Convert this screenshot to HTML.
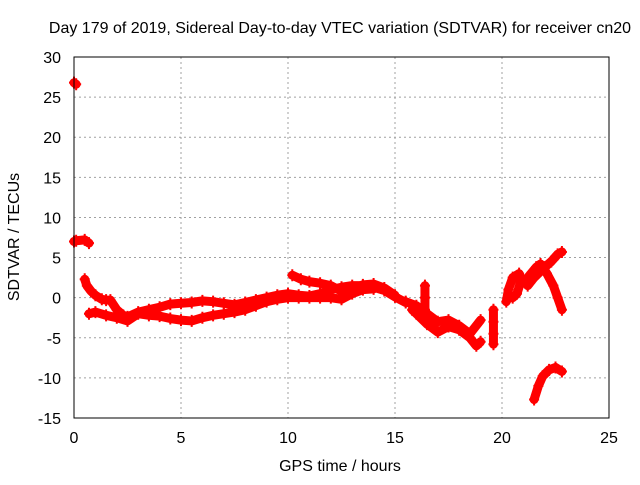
<!DOCTYPE html>
<html><head><meta charset="utf-8"><style>
body{margin:0;background:#fff}
svg{font-family:"Liberation Sans",sans-serif;font-size:16px}
</style></head><body>
<svg id="c" width="640" height="480">
<rect width="640" height="480" fill="#fff"/>
<text x="340" y="33" text-anchor="middle">Day 179 of 2019, Sidereal Day-to-day VTEC variation (SDTVAR) for receiver cn20</text>
<text x="340" y="471" text-anchor="middle">GPS time / hours</text>
<text transform="translate(19,237) rotate(-90)" text-anchor="middle">SDTVAR / TECUs</text>
<g id="grid"></g><g id="data"></g>
<rect x="74" y="57" width="535" height="361" fill="none" stroke="#000"/>
</svg>
<script>
const xTicks=[0,5,10,15,20,25];
const yTicks=[30,25,20,15,10,5,0,-5,-10,-15];
const track1=[[0,26.8],[0.1,26.6]];
const track2=[[0,7],[0.1,7.1],[0.5,7.2],[0.7,6.8]];
const track3=[[0.5,2.3],[0.6,1.5],[0.8,0.8],[1.0,0.3],[1.3,-0.2],[1.5,-0.3],[1.7,-0.3],[2.0,-1.5],[2.3,-2.2],[2.5,-2.4],[3,-1.8],[3.5,-1.5],[4,-1.2],[4.5,-0.8],[5,-0.7],[5.5,-0.6],[6,-0.4],[6.5,-0.5],[7,-0.7],[7.5,-0.9],[8,-0.6],[8.5,-0.3],[9,0],[9.5,0.3],[10,0.5],[10.5,0.3],[11,0.2],[11.5,0.5],[12,1],[12.5,1.3],[13,1.5],[13.5,1.5],[14,1.3],[14.5,0.9],[15,0.1],[15.5,-0.6]];
const track4=[[0.7,-2],[1,-1.8],[1.5,-2.2],[2,-2.5],[2.5,-2.9],[3,-2],[3.5,-2.2],[4,-2.3],[4.5,-2.6],[5,-2.8],[5.5,-2.9],[6,-2.5],[6.5,-2.2],[7,-2],[7.5,-1.8],[8,-1.5],[8.5,-1],[9,-0.5],[9.5,-0.2],[10,0],[10.5,0],[11,0],[11.5,0],[12,0],[12.5,-0.2],[13,0.5],[13.5,1],[14,1.1]];
const track5=[[10.2,2.8],[10.6,2.3],[11,2],[11.5,1.8],[12,1.5],[12.5,0.8],[13,1.1],[13.5,1.6],[14,1.7],[14.5,1.2],[15,0.3]];
const track6=[[15.5,-0.5],[16,-1],[16.5,-2],[17,-3],[17.5,-2.8],[18,-3.5],[18.5,-4.5],[19,-2.8]];
const track7=[[15.8,-1.5],[16,-2],[16.5,-3.3],[17,-4.3],[17.5,-3.6],[18,-4],[18.5,-5],[18.8,-6],[19,-5.5]];
const track8=[[16.4,1.5],[16.4,0],[16.4,-1.5],[16.5,-2.5]];
const track9=[[19.6,-1.5],[19.6,-3],[19.6,-4.5],[19.6,-5.8]];
const track10=[[20.2,-0.5],[20.3,1],[20.5,2.5],[20.8,3],[20.9,2.2],[20.7,0.5],[20.5,0]];
const track11=[[21.2,1.5],[21.5,2.5],[22,3.8],[22.3,4.5],[22.6,5.4],[22.8,5.7]];
const track12=[[21.2,2.5],[21.6,3.8],[21.8,4.2],[22.1,3],[22.4,1.5],[22.6,0],[22.8,-1.5]];
const track13=[[21.5,-12.7],[21.7,-11],[21.9,-9.8],[22.2,-9],[22.5,-8.7],[22.8,-9.2]];
const tracks=[track1,track2,track3,track4,track5,track6,track7,track8,track9,track10,track11,track12,track13];
const X=h=>74+h*535/25, Y=v=>57+(30-v)*361/45;
const NS="http://www.w3.org/2000/svg";
const svg=document.getElementById('c'),g=document.getElementById('grid'),d=document.getElementById('data');
function mk(tag,at,p){const e=document.createElementNS(NS,tag);for(const k in at)e.setAttribute(k,at[k]);p.appendChild(e);return e;}
xTicks.forEach(t=>{
  const l=mk('line',{x1:X(t),x2:X(t),y1:57,y2:418,stroke:'#a0a0a0','stroke-dasharray':'2,3'},g);
  
  
  const tx=mk('text',{x:X(t),y:443,'text-anchor':'middle'},g);tx.textContent=t;
  
  
});
yTicks.forEach(t=>{
  const l=mk('line',{x1:74,x2:609,y1:Y(t),y2:Y(t),stroke:'#a0a0a0','stroke-dasharray':'2,3'},g);
  
  
  const tx=mk('text',{x:61,y:Y(t)+6,'text-anchor':'end'},g);tx.textContent=t;
  
  
});
tracks.forEach(tr=>{
  const pl=mk('polyline',{points:tr.map(p=>X(p[0])+','+Y(p[1])).join(' '),fill:'none',stroke:'#f00','stroke-width':9,'stroke-linejoin':'round','stroke-linecap':'round'},d);
  
  
  tr.forEach(p=>{
    const m=mk('path',{d:`M${X(p[0])-5},${Y(p[1])}h10M${X(p[0])},${Y(p[1])-6}v12`,stroke:'#f00','stroke-width':2},d);
    
    
  });
});
</script>
</body></html>
